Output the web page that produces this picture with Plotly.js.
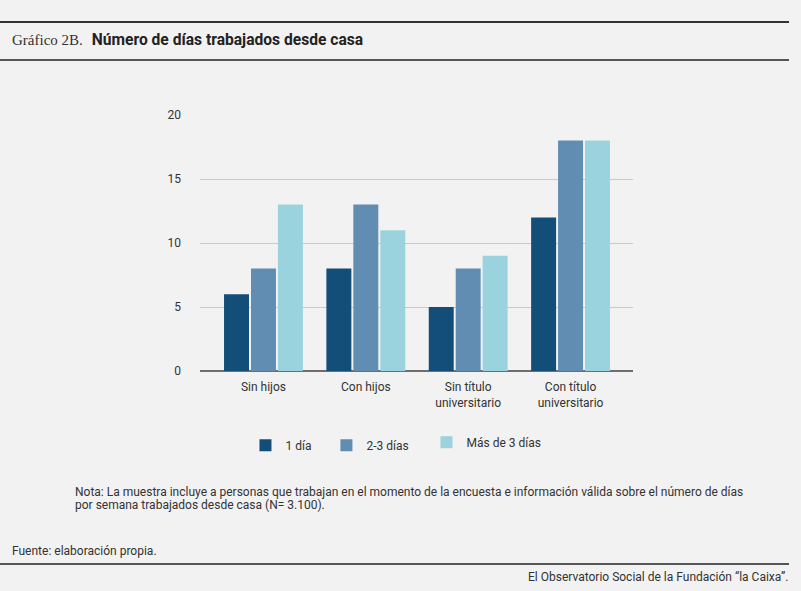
<!DOCTYPE html>
<html>
<head>
<meta charset="utf-8">
<script src="https://cdn.plot.ly/plotly-3.0.1.min.js"></script>
<style>
html,body{margin:0;padding:0;background:#f2f2f2;}
#chart{width:801px;height:591px;}
</style>
</head>
<body>
<div id="chart"></div>
<script>
const categories = ["Sin hijos", "Con hijos", "Sin título<br>universitario", "Con título<br>universitario"];
const seriesNames = ["1 día", "2-3 días", "Más de 3 días"];
const valuesUnDia = [6, 8, 5, 12];
const valuesDosTres = [8, 13, 8, 18];
const valuesMasTres = [13, 11, 9, 18];
const yTicks = [0, 5, 10, 15, 20];
const notaLines = [
  "Nota: La muestra incluye a personas que trabajan en el momento de la encuesta e información válida sobre el número de días",
  "por semana trabajados desde casa (N= 3.100)."
];

const colors = ["#134e79", "#628db3", "#9ad3de"];
const seriesValues = [valuesUnDia, valuesDosTres, valuesMasTres];
const legendIds = ["legend", "legend2", "legend3"];

const traces = seriesValues.map((v, i) => ({
  type: "bar",
  name: seriesNames[i],
  x: categories,
  y: v,
  legend: legendIds[i],
  marker: {color: colors[i], line: {width: 0}},
  hoverinfo: "y"
}));

const textFont = {family: "Roboto, 'Liberation Sans', sans-serif", size: 12, color: "#333"};

function legendAt(x, y) {
  return {
    orientation: "h",
    x: x, xanchor: "left",
    y: y, yanchor: "middle",
    font: textFont,
    bgcolor: "rgba(0,0,0,0)",
    itemwidth: 30
  };
}

const notaAnnotations = notaLines.map((t, i) => ({
  xref: "paper", yref: "paper", x: -127/433, y: -((492 + i * 13) - 371)/256,
  xanchor: "left", yanchor: "middle", showarrow: false, align: "left",
  font: textFont, text: t
}));

const layout = {
  width: 801, height: 591,
  paper_bgcolor: "#f2f2f2",
  plot_bgcolor: "#f2f2f2",
  margin: {l: 200, r: 168, t: 115, b: 220},
  barmode: "group",
  bargap: 0.21,
  bargroupgap: 0.074,
  font: textFont,
  showlegend: true,
  legend: legendAt(0.105, -0.29),
  legend2: legendAt(0.292, -0.29),
  legend3: legendAt(0.523, -0.278),
  xaxis: {
    type: "category",
    range: [-0.62, 3.61],
    showgrid: false,
    showline: false,
    ticks: "",
    ticklabelstandoff: 7,
    tickfont: textFont,
    fixedrange: true
  },
  yaxis: {
    range: [0, 20],
    tickvals: yTicks,
    ticktext: yTicks.map(String),
    showgrid: true,
    gridcolor: "#c8c8c8",
    gridwidth: 1,
    zeroline: true,
    zerolinecolor: "#6e6e6e",
    zerolinewidth: 2,
    showline: false,
    ticks: "",
    ticklabelstandoff: 18,
    tickfont: textFont,
    fixedrange: true
  },
  shapes: [
    {type: "line", xref: "paper", yref: "paper", x0: -200/433, x1: 589/433, y0: 1 + 93/256, y1: 1 + 93/256, line: {color: "#333", width: 2}},
    {type: "line", xref: "paper", yref: "paper", x0: -200/433, x1: 589/433, y0: 1 + 55/256, y1: 1 + 55/256, line: {color: "#555", width: 2}},
    {type: "line", xref: "paper", yref: "paper", x0: -200/433, x1: 589/433, y0: -193/256, y1: -193/256, line: {color: "#555", width: 2}}
  ],
  annotations: [
    {xref: "paper", yref: "paper", x: -190/433, y: 1 + 75/256, xanchor: "left", yanchor: "middle", showarrow: false,
     text: "<span style='font-family:\"Liberation Serif\",serif;font-size:15px;color:#333'>Gráfico 2B.</span>   <b style='font-family:Roboto,sans-serif;font-size:15.6px;color:#222'>Número de días trabajados desde casa</b>"},
    ...notaAnnotations,
    {xref: "paper", yref: "paper", x: -190/433, y: -(551 - 371)/256, xanchor: "left", yanchor: "middle", showarrow: false,
     font: textFont, text: "Fuente: elaboración propia."},
    {xref: "paper", yref: "paper", x: 590/433, y: -(577 - 371)/256, xanchor: "right", yanchor: "middle", showarrow: false,
     font: textFont, text: "El Observatorio Social de la Fundación “la Caixa”."}
  ]
};

Plotly.newPlot("chart", traces, layout, {displayModeBar: false, staticPlot: true});
</script>
</body>
</html>
